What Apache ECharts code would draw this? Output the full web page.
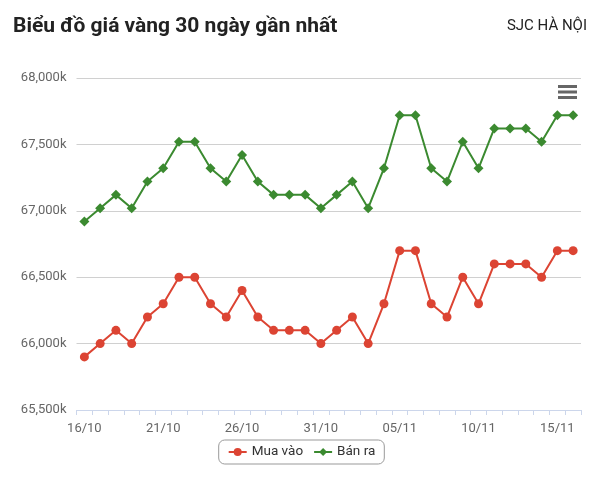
<!DOCTYPE html>
<html>
<head>
<meta charset="utf-8">
<style>
  html, body { margin: 0; padding: 0; background: #fff; }
  #chart { width: 603px; height: 480px; }
</style>
<script src="https://cdn.jsdelivr.net/npm/echarts@6/dist/echarts.min.js"></script>
</head>
<body>
<div id="chart"></div>
<script>
// ngày (16/10 -> 16/11)
const days = ['16/10', '17/10', '18/10', '19/10', '20/10', '21/10', '22/10', '23/10', '24/10', '25/10',
  '26/10', '27/10', '28/10', '29/10', '30/10', '31/10', '01/11', '02/11', '03/11', '04/11',
  '05/11', '06/11', '07/11', '08/11', '09/11', '10/11', '11/11', '12/11', '13/11', '14/11',
  '15/11', '16/11'];

// giá mua vào (nghìn đồng)
const muaVao = [65900, 66000, 66100, 66000, 66200, 66300, 66500, 66500, 66300, 66200,
  66400, 66200, 66100, 66100, 66100, 66000, 66100, 66200, 66000, 66300,
  66700, 66700, 66300, 66200, 66500, 66300, 66600, 66600, 66600, 66500,
  66700, 66700];

// giá bán ra (nghìn đồng)
const banRa = [66920, 67020, 67120, 67020, 67220, 67320, 67520, 67520, 67320, 67220,
  67420, 67220, 67120, 67120, 67120, 67020, 67120, 67220, 67020, 67320,
  67720, 67720, 67320, 67220, 67520, 67320, 67620, 67620, 67620, 67520,
  67720, 67720];

const yMin = 65500;
const yMax = 68000;
const yStep = 500;

(function () {
  let myChart = echarts.init(document.getElementById('chart'));
  const font = 'Roboto, "Noto Sans", sans-serif';

  let option = {
    animation: false,
    textStyle: { fontFamily: font },
    title: [{
      text: 'Biểu đồ giá vàng 30 ngày gần nhất',
      left: 8,
      top: 11,
      textStyle: { fontSize: 21, fontWeight: 'bold', color: '#222', fontFamily: font }
    }, {
      text: 'SJC HÀ NỘI',
      right: 11,
      top: 14,
      textStyle: { fontSize: 15, fontWeight: 'normal', color: '#222', fontFamily: font }
    }],
    // nút menu (ba gạch)
    toolbox: {
      right: 26,
      top: 85,
      padding: 0,
      itemSize: 19,
      feature: {
        myMenu: {
          show: true,
          title: '',
          icon: 'path://M0,0H19V3H0Z M0,5.5H19V8.5H0Z M0,11H19V14H0Z',
          onclick: function () {}
        }
      },
      iconStyle: { color: '#666', borderColor: '#666', borderWidth: 0 }
    },
    grid: {
      left: 76.5,
      right: 22,
      top: 78,
      bottom: 70
    },
    legend: {
      bottom: 16,
      left: 'center',
      data: ['Mua vào', 'Bán ra'],
      borderColor: '#999',
      borderWidth: 1,
      borderRadius: 6,
      padding: [5, 9, 5, 9],
      itemWidth: 18,
      itemHeight: 10,
      itemGap: 10,
      textStyle: { fontSize: 13.5, color: '#333', fontFamily: font }
    },
    xAxis: {
      type: 'category',
      data: days,
      boundaryGap: true,
      axisLine: { lineStyle: { color: '#ccd6eb', width: 1 } },
      axisTick: { show: true, interval: 0, length: 5, lineStyle: { color: '#ccd6eb' } },
      axisLabel: { interval: 4, color: '#666', fontSize: 13, margin: 12, fontFamily: font }
    },
    yAxis: {
      type: 'value',
      min: yMin,
      max: yMax,
      interval: yStep,
      axisLine: { show: false },
      axisTick: { show: false },
      axisLabel: {
        color: '#666',
        fontSize: 13,
        margin: 10,
        fontFamily: font,
        formatter: function (v) {
          return v.toLocaleString('en-US') + 'k';
        }
      },
      splitLine: { lineStyle: { color: '#d0d0d0', width: 1 } }
    },
    series: [{
      name: 'Mua vào',
      type: 'line',
      data: muaVao,
      color: '#dc4433',
      symbol: 'circle',
      symbolSize: 9,
      showAllSymbol: true,
      lineStyle: { width: 2 }
    }, {
      name: 'Bán ra',
      type: 'line',
      data: banRa,
      color: '#3b8a30',
      symbol: 'diamond',
      symbolSize: 10,
      showAllSymbol: true,
      lineStyle: { width: 2 }
    }]
  };

  myChart.setOption(option);
  window.addEventListener('resize', function () {
    myChart.resize();
  });
})();
</script>
</body>
</html>
